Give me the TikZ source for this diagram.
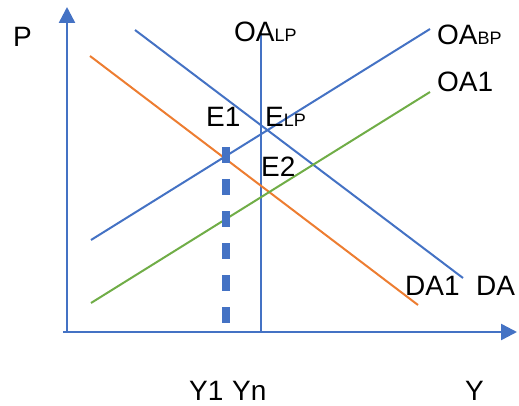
\documentclass[tikz,border=0pt]{standalone}
\usepackage{fontspec}
\setmainfont{Liberation Sans}
\usetikzlibrary{arrows.meta}
\definecolor{axblue}{HTML}{4472C4}
\definecolor{daorange}{HTML}{ED7D31}
\definecolor{oagreen}{HTML}{70AD47}
\newcommand{\subsm}[1]{{\fontsize{18}{18}\selectfont #1}}
\begin{document}
\begin{tikzpicture}[x=1pt,y=-1pt,>={Triangle[width=16pt,length=16pt]},
  curve/.style={line width=2pt},
  lab/.style={anchor=base west,inner sep=0pt,font=\fontsize{28}{28}\selectfont}]
\useasboundingbox (0,0) rectangle (519,406);
\coordinate (xstart) at (63,332);
\coordinate (xend) at (517,332);
\coordinate (ystart) at (67,332);
\coordinate (yend) at (67,7);
\coordinate (da0) at (135,30);
\coordinate (da1) at (463,278);
\coordinate (daa0) at (90,56);
\coordinate (daa1) at (418,305);
\coordinate (oabp0) at (91,240);
\coordinate (oabp1) at (430,29);
\coordinate (oaa0) at (91,303);
\coordinate (oaa1) at (430,92);
\coordinate (oalp0) at (261,33);
\coordinate (oalp1) at (261,332);
\coordinate (yy0) at (226,147);
\coordinate (yy1) at (226,323);
\draw[axblue,line width=2.5pt,->] (xstart) -- (xend);
\draw[axblue,line width=2.5pt,->] (ystart) -- (yend);
\draw[axblue,line width=1.5pt] (oalp0) -- (oalp1);
\draw[curve,axblue] (da0) -- (da1);
\draw[curve,daorange] (daa0) -- (daa1);
\draw[curve,axblue] (oabp0) -- (oabp1);
\draw[curve,oagreen] (oaa0) -- (oaa1);
\draw[axblue,line width=8pt,dash pattern=on 16pt off 16pt] (yy0) -- (yy1);
\node[lab] (P) at (13,47) {P};
\node[lab] (OALP) at (234,42) {OA\subsm{LP}};
\node[lab] (OABP) at (437,45) {OA\subsm{BP}};
\node[lab] (OA1) at (437,92) {OA1};
\node[lab] (E1) at (206,127) {E1};
\node[lab] (ELP) at (265,127) {E\subsm{LP}};
\node[lab] (E2) at (261,177) {E2};
\node[lab] (DA1) at (405,295) {DA1};
\node[lab] (DA) at (476,295) {DA};
\node[lab] (Y1) at (189,400) {Y1};
\node[lab] (Yn) at (232,400) {Yn};
\node[lab] (Y) at (465,400) {Y};
\end{tikzpicture}
\end{document}
